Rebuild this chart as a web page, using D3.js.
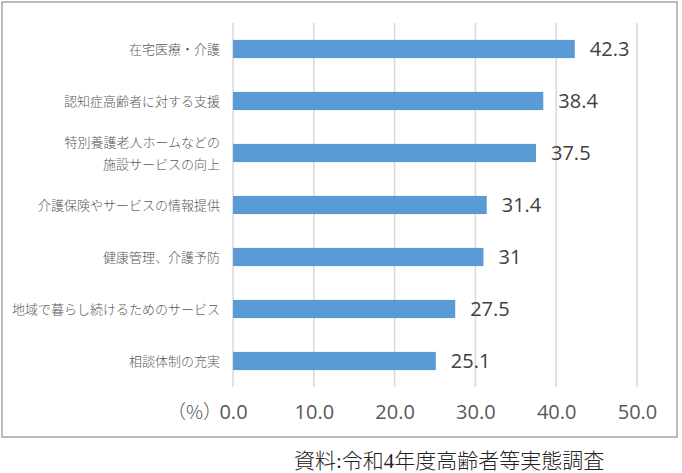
<!DOCTYPE html>
<html>
<head>
<meta charset="utf-8">
<script src="https://cdn.jsdelivr.net/npm/d3@7"></script>
<style>
  body { margin: 0; background: #fff; }
  svg { display: block; }
</style>
</head>
<body>
<svg></svg>
<script>
var categories = [
  ["在宅医療・介護"],
  ["認知症高齢者に対する支援"],
  ["特別養護老人ホームなどの", "施設サービスの向上"],
  ["介護保険やサービスの情報提供"],
  ["健康管理、介護予防"],
  ["地域で暮らし続けるためのサービス"],
  ["相談体制の充実"]
];
var values = [42.3, 38.4, 37.5, 31.4, 31, 27.5, 25.1];
var ticks = [0, 10, 20, 30, 40, 50];
var unitLabel = "（%）";
var sourceText = "資料:令和4年度高齢者等実態調査";

var svgWidth = 682;
var svgHeight = 473;
var jp = "'Noto Sans CJK JP', 'Noto Sans', sans-serif";
var num = "'Open Sans', 'Noto Sans', sans-serif";

var svg = d3.select("svg")
    .attr("width", svgWidth)
    .attr("height", svgHeight);

// chart frame
svg.append("rect")
    .attr("x", 2).attr("y", 2)
    .attr("width", 675).attr("height", 435)
    .attr("fill", "#fff")
    .attr("stroke", "#a6a6a6")
    .attr("stroke-width", 1.5);

var x = d3.scaleLinear().domain([0, 50]).range([233, 637]);
var y = d3.scaleBand()
    .domain(d3.range(categories.length))
    .range([23, 387])
    .paddingInner(0.65)
    .paddingOuter(0.325);

// gridlines
svg.selectAll("line.grid")
    .data(ticks)
    .enter()
    .append("line")
    .attr("class", "grid")
    .attr("x1", function(d) { return x(d); })
    .attr("x2", function(d) { return x(d); })
    .attr("y1", 23)
    .attr("y2", 387)
    .attr("stroke", "#d9d9d9")
    .attr("stroke-width", 1.5);

// bars
svg.selectAll("rect.bar")
    .data(values)
    .enter()
    .append("rect")
    .attr("class", "bar")
    .attr("x", x(0))
    .attr("y", function(d, i) { return y(i); })
    .attr("width", function(d) { return x(d) - x(0); })
    .attr("height", y.bandwidth())
    .attr("fill", "#5b9bd5");

// value labels
svg.selectAll("text.val")
    .data(values)
    .enter()
    .append("text")
    .attr("class", "val")
    .attr("x", function(d) { return x(d) + 15; })
    .attr("y", function(d, i) { return y(i) + y.bandwidth() / 2; })
    .attr("dy", "0.36em")
    .attr("font-family", num)
    .attr("font-size", 20)
    .attr("fill", "#404040")
    .text(function(d) { return String(d); });

// category labels
var cat = svg.selectAll("text.cat")
    .data(categories)
    .enter()
    .append("text")
    .attr("class", "cat")
    .attr("text-anchor", "end")
    .attr("font-family", jp)
    .attr("font-size", 13)
    .attr("font-weight", 300)
    .attr("fill", "#595959");

cat.each(function(lines, i) {
    var cy = y(i) + y.bandwidth() / 2;
    var t = d3.select(this);
    lines.forEach(function(s, j) {
        var off = (j - (lines.length - 1) / 2) * 22;
        t.append("tspan")
            .attr("x", 220)
            .attr("y", cy + off)
            .attr("dy", "0.36em")
            .text(s);
    });
});

// x axis tick labels
var axis = d3.axisBottom(x)
    .tickValues(ticks)
    .tickSize(0)
    .tickPadding(0)
    .tickFormat(d3.format(".1f"));

var gx = svg.append("g")
    .attr("transform", "translate(0,412)")
    .call(axis);
gx.select(".domain").remove();
gx.selectAll("text")
    .attr("font-family", num)
    .attr("font-size", 20)
    .attr("fill", "#595959")
    .attr("dy", "0.36em");

svg.append("text")
    .attr("x", 222)
    .attr("y", 419)
    .attr("text-anchor", "end")
    .attr("font-family", jp)
    .attr("font-size", 19)
    .attr("font-weight", 300)
    .attr("fill", "#595959")
    .text(unitLabel);

// source
svg.append("text")
    .attr("x", 294)
    .attr("y", 460)
    .attr("dy", "0.36em")
    .attr("font-family", "'Liberation Serif', 'Noto Sans CJK JP', serif")
    .attr("font-size", 21)
    .attr("font-weight", 300)
    .attr("fill", "#222")
    .text(sourceText);
</script>
</body>
</html>
